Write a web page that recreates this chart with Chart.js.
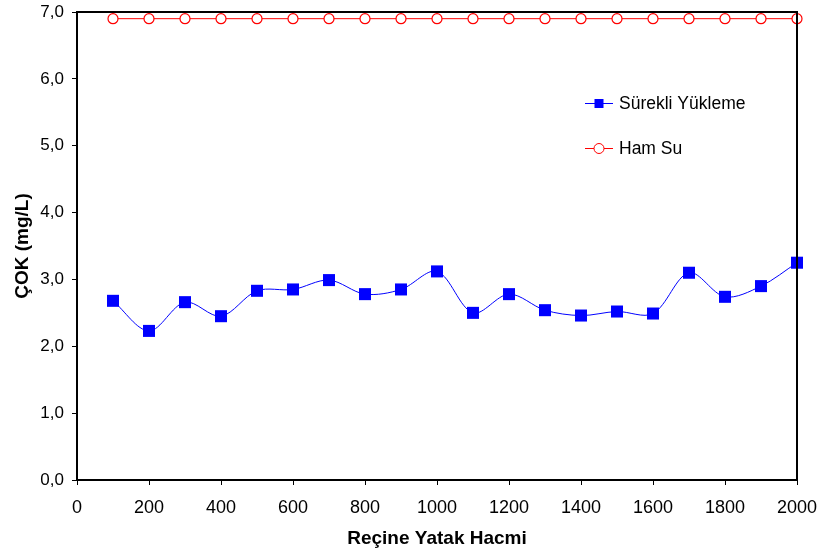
<!DOCTYPE html>
<html><head><meta charset="utf-8">
<script src="https://cdn.jsdelivr.net/npm/chart.js@4"></script>
<style>html,body{margin:0;padding:0;background:#fff}#wrap{width:817px;height:552px}</style>
</head><body><div id="wrap"><canvas id="c" width="817" height="552"></canvas></div>
<script>
const xValues = [100,200,300,400,500,600,700,800,900,1000,1100,1200,1300,1400,1500,1600,1700,1800,1900,2000];
const surekliYukleme = [2.68,2.23,2.66,2.45,2.83,2.85,2.99,2.78,2.85,3.12,2.50,2.78,2.54,2.46,2.52,2.49,3.10,2.74,2.90,3.25];
const hamSu = [6.9,6.9,6.9,6.9,6.9,6.9,6.9,6.9,6.9,6.9,6.9,6.9,6.9,6.9,6.9,6.9,6.9,6.9,6.9,6.9];
const seriesNames = ['Sürekli Yükleme','Ham Su'];
const xTitle = 'Reçine Yatak Hacmi';
const yTitle = 'ÇOK (mg/L)';

const toPts = (ys) => xValues.map((x,i)=>({x:x,y:ys[i]}));

const boxPlugin = {
  id:'box',
  afterDraw(chart){
    const {ctx, chartArea:a} = chart;
    ctx.save();
    ctx.strokeStyle='#000'; ctx.lineWidth=2;
    ctx.strokeRect(a.left, a.top, a.right-a.left, a.bottom-a.top);
    ctx.restore();
  }
};
const legendPlugin = {
  id:'customLegend',
  afterDraw(chart){
    const ctx = chart.ctx;
    const items = [{y:103}, {y:148}];
    chart.data.datasets.forEach((ds,i)=>{
      const y = items[i].y, x0=585, x1=613, cx=599;
      ctx.save();
      ctx.strokeStyle = ds.borderColor; ctx.lineWidth=1;
      ctx.beginPath(); ctx.moveTo(x0,y+0.5); ctx.lineTo(x1,y+0.5); ctx.stroke();
      if (ds.pointStyle==='rect'){
        ctx.fillStyle = ds.pointBackgroundColor; ctx.fillRect(cx-4.5,y-4,9,9);
      } else {
        ctx.fillStyle='#fff'; ctx.beginPath(); ctx.arc(cx,y+0.5,5,0,Math.PI*2); ctx.fill(); ctx.stroke();
      }
      ctx.fillStyle='#000'; ctx.font='17.5px "Liberation Sans", Arial, sans-serif';
      ctx.textBaseline='middle'; ctx.textAlign='left';
      ctx.fillText(ds.label, 619, y+1);
      ctx.restore();
    });
  }
};

new Chart(document.getElementById('c'), {
  type:'line',
  data:{datasets:[
    {label:seriesNames[0], data:toPts(surekliYukleme), borderColor:'#0000ff', borderWidth:1,
     pointStyle:'rect', pointRadius:8.5, pointBackgroundColor:'#0000ff', pointBorderColor:'#0000ff', pointBorderWidth:0,
     tension:0.33, clip:false},
    {label:seriesNames[1], data:toPts(hamSu), borderColor:'#ff0000', borderWidth:1,
     pointStyle:'circle', pointRadius:5, pointBackgroundColor:'#ffffff', pointBorderColor:'#ff0000', pointBorderWidth:1.2,
     tension:0, clip:false}
  ]},
  options:{
    responsive:false, animation:false, devicePixelRatio:1,
    layout:{padding:{top:12,right:20,left:0,bottom:0}},
    plugins:{legend:{display:false}, tooltip:{enabled:false}},
    scales:{
      x:{type:'linear', min:0, max:2000,
        ticks:{stepSize:200, color:'#000', padding:12, maxRotation:0, autoSkip:false,
          callback:(v)=>String(v),
          font:{family:'"Liberation Sans", Arial', size:18}},
        grid:{drawOnChartArea:false, drawTicks:true, tickLength:5, color:'#000'},
        border:{display:true, color:'#000', width:2},
        title:{display:true, text:xTitle, color:'#000', padding:{top:4,bottom:2},
          font:{family:'"Liberation Sans", Arial', size:19, weight:'bold'}},
        afterFit(s){ s.height = 72; s.paddingLeft = 0; s.paddingRight = 0; }
      },
      y:{min:0, max:7,
        ticks:{stepSize:1, color:'#000', padding:8,
          callback:(v)=>v.toFixed(1).replace('.',','),
          font:{family:'"Liberation Sans", Arial', size:17}},
        grid:{drawOnChartArea:false, drawTicks:true, tickLength:5, color:'#000'},
        border:{display:true, color:'#000', width:2},
        title:{display:true, text:yTitle, color:'#000', padding:{top:11,bottom:4},
          font:{family:'"Liberation Sans", Arial', size:19, weight:'bold'}},
        afterFit(s){ s.width = 77; s.paddingTop = 0; s.paddingBottom = 0; }
      }
    }
  },
  plugins:[boxPlugin, legendPlugin]
});
</script></body></html>
